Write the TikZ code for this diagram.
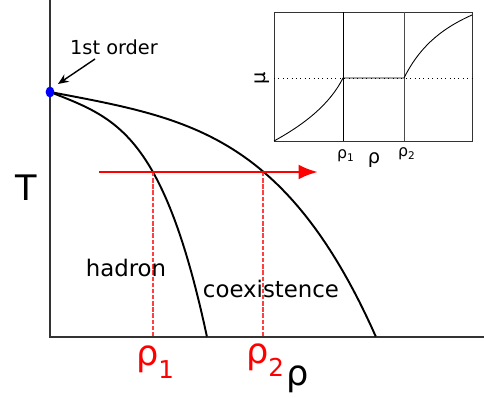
\documentclass[tikz,border=0pt]{standalone}
\usepackage{fontspec}
\setmainfont{DejaVu Sans}
\usetikzlibrary{arrows.meta,positioning}

\begin{document}
\begin{tikzpicture}[x=0.02cm, y=-0.02cm,
    phase/.style={black, line width=1.1pt},
    guide/.style={red!75!white, dash pattern=on 2.5pt off 1pt, line width=0.7pt},
    big/.style={font=\fontsize{20}{24}\selectfont},
    small/.style={font=\fontsize{9}{10}\selectfont}]
    \useasboundingbox (0,0) rectangle (484,398);

    % axes of the phase diagram
    \coordinate (ytop) at (50,0);
    \coordinate (origin) at (50,337);
    \coordinate (xend) at (484,337);
    \draw[black!80, line width=0.6pt] (ytop) -- (origin) -- (xend);

    % phase boundaries
    \coordinate (crit) at (50,92);
    \draw[phase] plot[domain=0:1, samples=60]
        ({50+157*\x}, {92+245*(0.25*\x+0.25*\x*\x*\x+0.5*\x*\x*\x*\x)});
    \draw[phase] plot[domain=0:1, samples=60]
        ({50+326*\x}, {92+245*(0.25*\x+0.25*\x*\x*\x+0.5*\x*\x*\x*\x)});
    \fill[blue] (crit) ellipse [x radius=2.5pt, y radius=3.1pt];

    % path through the coexistence region
    \coordinate (cut1) at (153,172);
    \coordinate (cut2) at (263,172);
    \coordinate (foot1) at (153,337);
    \coordinate (foot2) at (263,337);
    \draw[guide] (cut1) -- (foot1);
    \draw[guide] (cut2) -- (foot2);
    \coordinate (pathstart) at (99,172);
    \coordinate (pathend) at (318,172);
    \draw[red, line width=1.7pt, -{Latex[length=11pt, width=8.5pt]}] (pathstart) -- (pathend);

    % labels
    \node (tlabel) [big] at (26,188) {T};
    \node (rholabel) [big, anchor=base] at (298,386) {ρ};
    \node (rho1) [big, red, anchor=base] at (155,366) {ρ\raisebox{-7pt}{\fontsize{14}{16}\selectfont 1}};
    \node (rho2) [big, red, anchor=base] at (265,364) {ρ\raisebox{-7pt}{\fontsize{14}{16}\selectfont 2}};
    \node (hadron) [font=\fontsize{13}{15}\selectfont] at (126,268) {hadron};
    \node (coex) [font=\fontsize{13}{15}\selectfont] at (271,289) {coexistence};
    \node (order) [font=\fontsize{11}{13}\selectfont] at (114,47) {1st order};
    \coordinate (orderend) at (58,84);
    \draw[-{Stealth[length=6pt, width=5pt]}, line width=0.8pt] (95,59) -- (orderend);

    % inset: chemical potential
    \coordinate (insetsw) at (274,141);
    \coordinate (insetne) at (472,12);
    \draw[black!80, line width=0.5pt] (insetsw) rectangle (insetne);
    \draw[black, line width=0.5pt] (343,12) -- (343,141);
    \draw[black!70, line width=0.5pt] (404,12) -- (404,141);
    \draw[dotted, line width=0.5pt] (274,78) -- (472,78);
    \coordinate (mu1) at (343,78);
    \coordinate (mu2) at (404,78);
    \coordinate (muend) at (472,15);
    \draw[line width=0.5pt] (insetsw) .. controls (305,124) and (330,104) .. (mu1)
        -- (mu2) .. controls (418,50) and (438,30) .. (muend);
    \node (irho1) [small, anchor=base] at (346,159) {ρ\textsubscript{1}};
    \node (irho2) [small, anchor=base] at (407,157) {ρ\textsubscript{2}};
    \node (irho) [font=\fontsize{11}{13}\selectfont, anchor=base] at (374,164) {ρ};
    \node (imu) [font=\fontsize{11}{13}\selectfont, rotate=90] at (262,78) {μ};
\end{tikzpicture}
\end{document}
